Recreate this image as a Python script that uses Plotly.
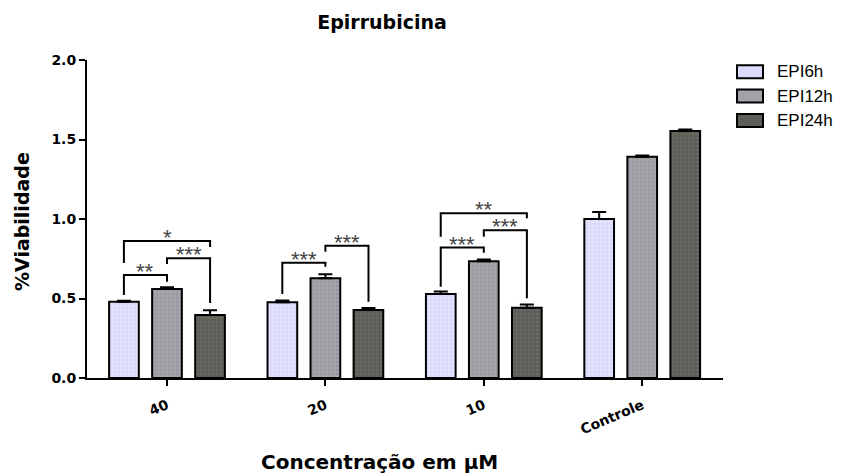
import plotly.graph_objects as go

categories = ["40", "20", "10", "Controle"]
series_names = ["EPI6h", "EPI12h", "EPI24h"]
epi6h = [0.48, 0.476, 0.528, 1.00]
epi12h = [0.56, 0.627, 0.734, 1.392]
epi24h = [0.396, 0.428, 0.442, 1.553]
err6h = [0.006, 0.012, 0.016, 0.044]
err12h = [0.010, 0.026, 0.012, 0.008]
err24h = [0.030, 0.012, 0.021, 0.010]
y_ticks = [0.0, 0.5, 1.0, 1.5, 2.0]

# significance brackets: (group, bar_a, bar_b, top, left_bottom, right_bottom, label)
brackets = [
    (0, 0, 1, 0.648, 0.522, 0.606, "**"),
    (0, 1, 2, 0.753, 0.717, 0.472, "***"),
    (0, 0, 2, 0.862, 0.723, 0.824, "*"),
    (1, 0, 1, 0.725, 0.528, 0.700, "***"),
    (1, 1, 2, 0.832, 0.794, 0.480, "***"),
    (2, 0, 2, 1.036, 0.889, 1.004, "**"),
    (2, 0, 1, 0.820, 0.574, 0.788, "***"),
    (2, 1, 2, 0.929, 0.889, 0.501, "***"),
]

fills = ["#dadafb", "#a3a3aa", "#5c5e58"]
dots = ["#f4f4ff", "#8e8e96", "#74766f"]
values = [epi6h, epi12h, epi24h]
errors = [err6h, err12h, err24h]

fig = go.Figure()
for name, v, e, c, d in zip(series_names, values, errors, fills, dots):
    fig.add_trace(go.Bar(
        x=categories, y=v, name=name, showlegend=False,
        marker=dict(color=c, line=dict(color="black", width=2),
                    pattern=dict(shape=".", fgcolor=d, bgcolor=c, size=4, solidity=0.35)),
        error_y=dict(type="data", array=e, arrayminus=[0] * len(e), symmetric=False,
                     color="black", thickness=2, width=7),
    ))

offset = 0.272
for g, a, b, top, lb, rb, lab in brackets:
    xa = g + (a - 1) * offset
    xb = g + (b - 1) * offset
    fig.add_shape(type="path", xref="x", yref="y",
                  path=f"M {xa},{lb} L {xa},{top} L {xb},{top} L {xb},{rb}",
                  line=dict(color="black", width=2))
    fig.add_annotation(x=(xa + xb) / 2, y=top, xref="x", yref="y", text=lab,
                       showarrow=False, yanchor="bottom", yshift=-11,
                       font=dict(family="Liberation Sans", size=22, color="#444"))

# legend drawn manually (swatch + label)
px_w, px_h = 636, 318
for i, (name, c, d) in enumerate(zip(series_names, fills, dots)):
    cy = (378 - (71.7 + 24.4 * i)) / px_h
    fig.add_shape(type="rect", xref="paper", yref="paper",
                  x0=(737 - 87) / px_w, x1=(763 - 87) / px_w,
                  y0=cy - 6.5 / px_h, y1=cy + 6.5 / px_h,
                  fillcolor=c, line=dict(color="black", width=2))
    fig.add_annotation(x=(775 - 87) / px_w, y=cy, xref="paper", yref="paper",
                       text=name, showarrow=False, xanchor="left", yanchor="middle",
                       font=dict(family="Liberation Sans", size=17, color="black"))

fig.add_annotation(x=(379 - 87) / px_w, y=(378 - 462) / px_h, xref="paper", yref="paper",
                   text="Concentração em µM", showarrow=False, xanchor="center", yanchor="middle",
                   font=dict(family="DejaVu Sans", size=20, color="black", weight="bold"))
fig.add_annotation(x=(22 - 87) / px_w, y=(378 - 222) / px_h, xref="paper", yref="paper",
                   text="%Viabilidade", showarrow=False, textangle=-90,
                   xanchor="center", yanchor="middle",
                   font=dict(family="DejaVu Sans", size=19, color="black", weight="bold"))

fig.update_layout(
    width=841, height=475,
    margin=dict(l=87, r=118, t=60, b=97),
    paper_bgcolor="white", plot_bgcolor="white",
    barmode="group", bargap=0.185, bargroupgap=0.31,
    title=dict(text="<b>Epirrubicina</b>", x=382 / 841, xanchor="center", xref="container",
               y=1 - 22 / 475, yanchor="middle", yref="container",
               font=dict(family="DejaVu Sans", size=19, color="black")),
    xaxis=dict(range=[-0.505, 3.51], showline=True, linecolor="black", linewidth=2,
               ticks="outside", ticklen=6, tickwidth=2, tickcolor="black",
               tickangle=-23, showgrid=False, zeroline=False, ticklabelstandoff=6,
               tickfont=dict(family="DejaVu Sans", size=14, color="black", weight="bold")),
    yaxis=dict(range=[0, 2.0], tickvals=y_ticks, ticktext=[f"{t:.1f}" for t in y_ticks],
               showline=True, linecolor="black", linewidth=2,
               ticks="outside", ticklen=6, tickwidth=2, tickcolor="black",
               showgrid=False, zeroline=False,
               tickfont=dict(family="DejaVu Sans", size=14, color="black", weight="bold")),
)

fig.write_html("out.html")
